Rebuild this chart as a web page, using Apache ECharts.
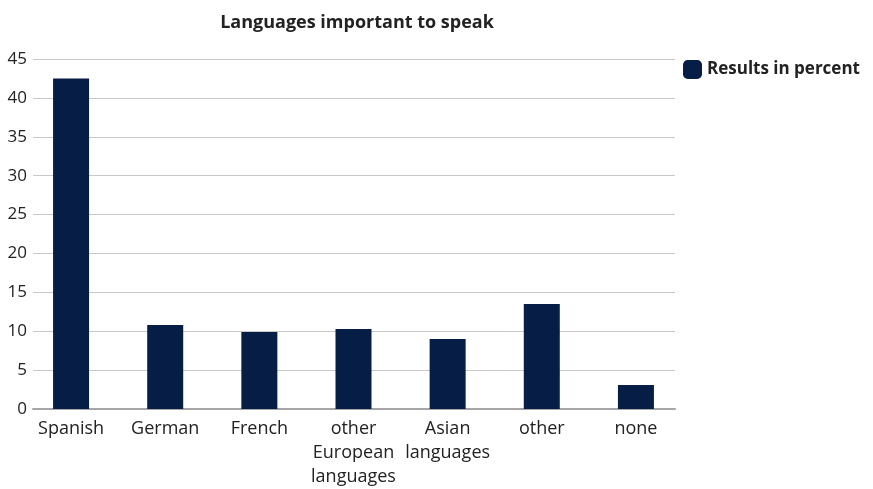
<!DOCTYPE html>
<html>
<head>
<meta charset="utf-8">
<script src="https://cdn.jsdelivr.net/npm/echarts@6/dist/echarts.min.js"></script>
<style>
  html, body { margin: 0; padding: 0; background: #ffffff; }
  #chart { width: 873px; height: 489px; }
</style>
</head>
<body>
<div id="chart"></div>
<script>
// Survey results: which languages are important to speak
const categories = ['Spanish', 'German', 'French', 'other\nEuropean\nlanguages', 'Asian\nlanguages', 'other', 'none'];
const resultsInPercent = [42.5, 10.8, 9.9, 10.3, 9.0, 13.5, 3.1];
const yTicks = [0, 5, 10, 15, 20, 25, 30, 35, 40, 45];

const barColor = '#061d45';
const fontFamily = '"Open Sans", "Liberation Sans", sans-serif';

const chart = echarts.init(document.getElementById('chart'));
chart.setOption({
  animation: false,
  backgroundColor: '#ffffff',
  title: {
    text: 'Languages important to speak',
    left: 352,
    textAlign: 'center',
    top: 9,
    textStyle: { fontFamily, fontSize: 18, fontWeight: 'bold', color: '#222222' }
  },
  legend: {
    data: ['Results in percent'],
    left: 683,
    top: 60,
    padding: 0,
    itemWidth: 19,
    itemHeight: 19,
    icon: 'roundRect',
    textStyle: { fontFamily, fontSize: 17, fontWeight: 'bold', color: '#222222' }
  },
  grid: [
    // frame with value gridlines and the baseline
    { left: 33, right: 198, top: 59, bottom: 80 },
    // category bands for the bars
    { left: 24, right: 190, top: 59, bottom: 80 }
  ],
  xAxis: [
    {
      type: 'category',
      gridIndex: 0,
      data: categories,
      axisLine: { show: true, lineStyle: { color: '#a6a6a6', width: 2 } },
      axisTick: { show: false },
      axisLabel: { show: false },
      splitLine: { show: false }
    },
    {
      type: 'category',
      gridIndex: 1,
      data: categories,
      axisLine: { show: false },
      axisTick: { show: false },
      axisLabel: {
        interval: 0,
        margin: 8,
        fontFamily,
        fontSize: 18,
        lineHeight: 24,
        color: '#222222'
      }
    }
  ],
  yAxis: [
    {
      type: 'value',
      gridIndex: 0,
      min: yTicks[0],
      max: yTicks[yTicks.length - 1],
      interval: 5,
      axisLine: { show: false },
      axisTick: { show: false },
      axisLabel: { margin: 6, fontFamily, fontSize: 17, color: '#222222' },
      splitLine: { lineStyle: { color: '#c8c8c8', width: 1 } }
    },
    {
      type: 'value',
      gridIndex: 1,
      min: yTicks[0],
      max: yTicks[yTicks.length - 1],
      interval: 5,
      show: false,
      splitLine: { show: false }
    }
  ],
  series: [
    {
      name: 'Results in percent',
      type: 'bar',
      xAxisIndex: 1,
      yAxisIndex: 1,
      data: resultsInPercent,
      barWidth: 36,
      itemStyle: { color: barColor }
    }
  ]
});
</script>
</body>
</html>
